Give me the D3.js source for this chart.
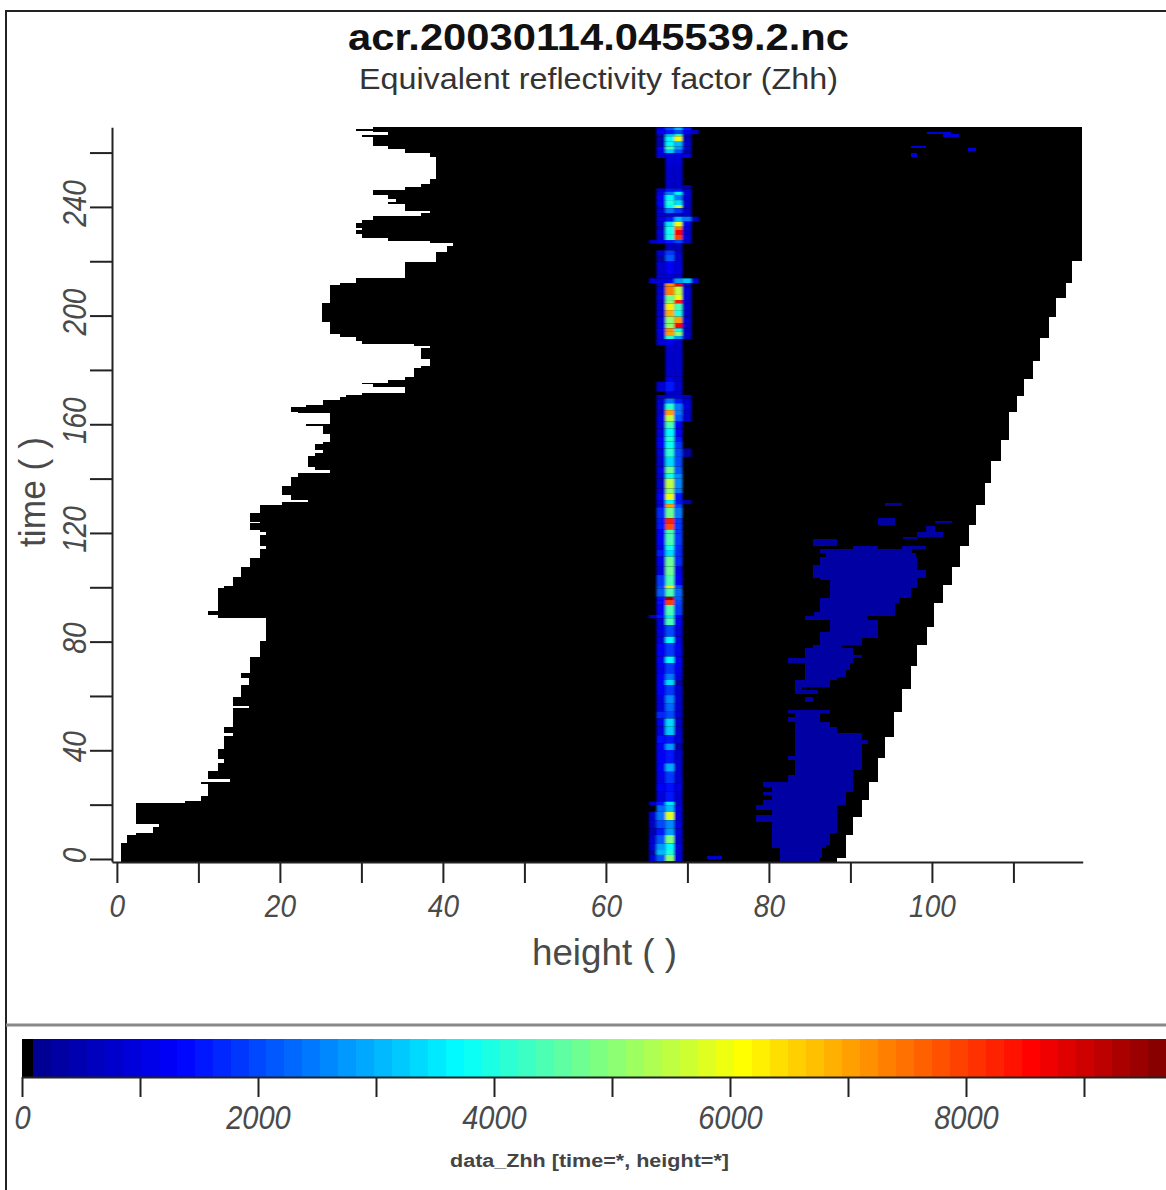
<!DOCTYPE html>
<html>
<head>
<meta charset="utf-8">
<script src="https://cdn.jsdelivr.net/npm/d3@7/dist/d3.min.js"></script>
<style>
html,body{margin:0;padding:0;background:#fff;overflow:hidden}
svg{display:block}
text{font-family:"Liberation Sans",Arial,sans-serif}
</style>
</head>
<body>
<script>
const titleText = "acr.20030114.045539.2.nc";
const subtitleText = "Equivalent reflectivity factor (Zhh)";
const xTitle = "height ( )";
const yTitle = "time ( )";
const barTitle = "data_Zhh [time=*, height=*]";

const xTicks = [0,10,20,30,40,50,60,70,80,90,100,110];
const xLabelled = [0,20,40,60,80,100];
const yTicks = [0,20,40,60,80,100,120,140,160,180,200,220,240,260];
const yLabelled = [0,40,80,120,160,200,240];
const barTicks = [0,1000,2000,3000,4000,5000,6000,7000,8000,9000];
const barLabelled = [0,2000,4000,6000,8000];

// colour map of the bar
const barStopValues = [100,1322,3720,6110,8570,9700];
const barStopColors = ["#00008f","#0000ff","#00ffff","#ffff00","#ff0000","#800000"];
const barLevels = 64;
const barFloor = 90;
const barMax = 9695;

// lower bound of the echo: each run starts at time t, holds until the next
const leftTimes = [-1,6,8.8,9.7,11.9,12.9,20.5,21.4,23.2,27.5,28.4,29.4,32.5,35.2,36.7,40.4,45.2,46.2,48.7,55.5,56.3,59.7,64,66.7,68.3,74.2,80.1,88.8,89.8,91.3,99.9,100.6,103.9,107.3,110.9,114.1,115.2,119.2,120.2,121,123.5,124.1,127.2,130.3,131.3,132.2,134,137.3,140.7,141.7,142.2,143.2,144.4,148.3,149.3,150.6,152.6,153.6,156.6,159.2,160.2,164,164.5,166.4,167,168.9,170.1,170.7,171.4,173.8,174.7,175.3,176.3,177.3,180.6,181.4,184,188.2,188.9,189.5,190.7,192.2,193.2,197.8,204.5,211.2,212.1,213.9,219.8,223.3,225.7,226.6,227.5,228.4,230,231.5,232.3,234.2,235.2,236.8,237.6,238.6,241.1,241.9,242.9,244.4,246.2,247.4,248.6,250.2,258.2,259.9,261.3,262.4,265.8,266.6,267.4,268,268.6];
const leftHeights = [0.45,1.3,2.4,4.4,5.2,2.4,8.3,10.3,11.2,10.3,13.9,11.2,12.4,13.2,12.4,13.2,14.3,13.2,14.3,16.2,14.3,15.2,16.2,15.2,16.3,17.5,18.3,12.4,11.2,12.4,13.2,14.3,15.2,16.3,17.5,18.3,17.5,18.3,17.5,16.3,17.5,16.3,17.5,20.3,23.4,21.4,20.3,21.4,22.2,22.2,26.2,24.3,23.4,24.3,25.3,24.3,25.3,26.2,25.3,23.2,26.2,22.2,21.4,23.2,25.3,27.4,28.1,30.1,35.3,31.4,30.1,33.3,35.3,36.5,37.3,38.4,37.3,38.4,36.5,30.1,29.3,27.4,26.2,25.2,26.2,27.4,29.3,35.3,39.2,40.5,41.3,38.4,33.3,30.1,29.3,30.1,29.3,30.1,31.4,37.3,38.4,35.3,33.3,34.3,33.3,31.4,35.3,37.3,38.4,39.2,38.4,35.3,33.3,31.4,30.1,33.3,31.4,29.3,31.4,36.5];

// upper bound of the echo
const rightTimes = [-1,0.4,8.8,15.6,21.7,28.5,37,44.8,54,62.5,71,78.8,85.5,94.1,100.8,107.6,115.3,122.9,130.4,138.3,146.6,154.2,164.6,170.5,176.5,183.4,191.7,199.3,206.3,212.1,220.1];
const rightHeights = [88.3,89.4,90.3,91.4,92.3,93.4,94.2,95.4,96.3,97.4,98.2,99.4,100.2,101.4,102.5,103.4,104.5,105.4,106.5,107.3,108.5,109.4,110.4,111.3,112.4,113.3,114.4,115.2,116.4,117.2,118.4];

// faint echo patches: time from, time to, height from, height to, value
const patches = [
[-0.8,0.2,81.3,86.3,300],[0.2,3.9,81.3,86.5,300],[3.9,5.1,80.4,87,300],[5.1,9.4,80.4,87.5,300],[9.4,12.5,80.4,88.3,300],[12.5,13.7,80.4,88.3,300],[13.7,16.2,78.4,88.3,300],[16.2,17.4,80.4,88.3,300],[17.4,18,80.4,88.3,300],[18,19.8,78.4,88.3,300],[19.8,21.7,79.3,89.4,300],[21.7,23.5,80.4,89.4,300],[23.5,24.8,79.3,89.4,300],[24.8,26.6,80.4,90.3,300],[26.6,28.4,79.3,90.3,300],[28.4,30.9,82.4,90.3,300],[30.9,32.7,83.2,90.3,300],[32.7,36.4,83.2,91.4,300],[36.4,37.9,82.4,91.4,300],[37.9,42.5,83.2,91.4,300],[42.5,43.8,83.2,92.2,300],[43.8,46.2,83.2,91.4,300],[46.2,48.7,83.2,88.3,300],[48.7,50.5,83.2,87.5,300],[50.5,52.4,82.4,86.3,300],[52.4,53.8,83.2,86.3,300],[53.8,54.8,82.4,87.5,300],
[57.9,59.7,84.4,85.4,300],[60.7,62.2,83.2,86,300],[62.2,63.4,83.2,84,300],[63.4,65.9,83.2,87.5,300],[65.9,67.1,84.4,88.3,300],[67.1,69.6,84.4,89.4,300],[69.6,72,84.4,90,300],[72,73.8,82.4,90.3,300],[73.8,75,84.4,91.4,300],[75,77.5,84.4,90.3,300],[77.5,78.8,85.4,89,300],[78.8,81.2,86.3,91.4,300],[81.2,83.7,86.3,93.4,300],[83.7,86.1,87.5,93.4,300],[86.1,88,87.5,93.4,300],[88,89.4,84.4,92,300],[89.4,91,85.5,95.5,300],[91,94.1,86.3,95.5,300],[94.1,95.9,86.3,96,300],[95.9,97.2,87.5,97.4,300],[97.2,99.6,87.5,97.4,300],[99.6,102.7,87.5,98.2,300],[102.7,103.6,86.3,98.2,300],[103.6,106.4,85.4,99.3,300],[106.4,108.2,85.4,98.2,300],[108.2,111.3,86.3,98.2,300],[111.3,112.5,87,98,300],[112.5,114,86.3,97.5,300],[114,115.2,90.3,93.4,300],[114,115.2,96.3,99.3,300],[115.2,117.6,85.4,88.3,300],[117.6,118.6,96.5,98.2,300],[118.6,120.5,98.2,101.4,300],[120.5,122.5,99.3,100.4,300],[123.5,124.5,100.4,102.5,300],[122.9,125.4,93.4,95.5,300],[129.9,131.1,94.3,96.3,300],
[0,1,72.4,74.3,800],[266.7,267.5,99.4,102.4,900],[265.9,266.8,101.4,103.3,900],[261.7,262.4,97.4,99.3,900],[260.7,261.6,104.4,105.4,900],[258.3,260,97.4,98.2,900]
];

// the strong band near height 68
const bandEdges = [65.3,66.2,67.3,68.4,69.4,70.5,71.4];
// time from, time to, then the value in each of the six height bins
const bandRows = [
[268.3,269.3,0,1000,2000,3000,1500,0],[266.8,268.3,0,1300,1500,2000,1200,800],[266,266.8,0,800,3000,4000,800,0],[264,266,0,500,3700,6000,600,0],[262.2,264,0,500,3700,3000,800,0],[261,262.2,0,1200,4500,2800,1000,0],[259.7,261,0,1000,3200,2000,300,0],[258,259.7,0,1000,1000,900,900,0],[255.4,258,0,0,1000,900,0,0],[248,255.4,0,0,800,800,0,0],[246.8,248,0,0,800,800,500,0],[245.6,246.8,0,800,1500,1500,700,0],[244.4,245.6,0,1000,2500,3700,1000,0],[242.5,244.4,0,1300,3700,2500,800,0],[240.7,242.5,0,1200,4000,3400,800,0],[239.5,240.7,0,800,3700,5500,600,0],[237.6,239.5,0,1000,2500,1800,800,0],[236.4,237.6,0,800,800,800,800,0],[234.6,236.4,0,900,1500,3000,2500,800],[232.7,234.6,0,800,3500,6000,1300,0],[231.5,232.7,0,400,4000,7500,1000,0],[229.7,231.5,0,900,3800,8600,800,0],[227.8,229.7,0,700,4000,8000,1000,0],[226.6,227.8,600,1300,1500,2000,800,0],[224,226.6,0,0,600,600,0,0],[222.3,224,0,800,1800,800,0,0],[219.9,222.3,0,300,2200,800,0,0],[215,219.9,0,700,1200,900,0,0],[213.7,215,0,1000,1000,700,0,0],[211.9,213.7,900,1000,1200,2800,3200,900],[210.7,211.9,0,800,7200,8600,800,0],[207.6,210.7,0,800,7300,5500,1000,0],[205.7,207.6,0,1000,4800,6000,1000,0],[204.5,205.7,0,800,5000,8400,800,0],[202,204.5,0,800,6300,4500,800,0],[199.6,202,0,800,6800,4000,800,0],[197.1,199.6,0,1000,5000,7000,800,0],[195.3,197.1,0,1000,5000,8500,800,0],[194,195.3,0,1200,7200,3900,800,0],[192.5,194,0,1000,7000,5000,800,0],[191.3,192.5,0,700,4200,2800,600,0],[189.2,191.3,0,900,1300,800,0,0],[177.5,189.2,0,0,800,700,0,0],[175.7,177.5,0,0,1100,700,0,0],[172,175.7,0,700,1500,800,0,0],[170.8,172,0,0,700,700,0,0],[169.5,170.8,0,700,800,1000,700,0],[167.7,169.5,0,700,2500,1500,700,0],[165.2,167.7,0,700,4200,2500,900,0],[163.4,165.2,0,800,7000,2500,800,0],[161,163.4,0,1000,5500,2200,800,0],[158.5,161,0,900,4500,1300,0,0],[155.4,158.5,0,1000,3700,1200,0,0],[153.6,155.4,0,1200,4200,1500,0,0],[151.1,153.6,0,1200,3800,1800,0,0],[148,151.1,0,1000,4200,2000,300,0],[144.4,148,0,800,3300,2000,0,0],[141.9,144.4,0,1000,4800,2200,0,0],[140,141.9,0,800,3800,2600,0,0],[136.4,140,0,800,5500,2600,0,0],
[135.8,136.4,0,1000,5000,2500,0,0],[134.6,135.8,0,1000,5000,2500,0,0],[132.1,134.6,0,1200,5900,1500,0,0],[130.6,132.1,0,1000,3700,1500,400,0],[129.4,130.6,0,1000,7000,2000,0,0],[125.4,129.4,0,1700,4800,2400,0,0],[123.5,125.4,0,1500,8300,1800,0,0],[121.3,123.5,0,1500,7800,1800,0,0],[119.8,121.3,0,1200,4500,1800,0,0],[115.5,119.8,0,1200,4500,1900,0,0],[113.7,115.5,0,1000,3800,1700,0,0],[111.3,113.7,0,1600,3300,1700,0,0],[107.6,111.3,0,1100,4800,1700,0,0],[104.5,107.6,0,900,4800,1100,0,0],[100.8,104.5,0,1800,4500,1300,0,0],[99.6,100.8,0,2000,6300,2000,0,0],[96.5,99.6,0,2200,4500,2300,0,0],[95.3,96.5,0,1400,9300,2200,0,0],[93.5,95.3,0,1400,8000,2000,0,0],[89.8,93.5,0,1300,4500,1800,0,0],[88.6,89.8,900,1500,3500,1300,0,0],[86.1,88.6,0,1000,4400,1200,0,0],[81.8,86.1,0,1000,2000,1000,0,0],[79.4,81.8,0,1000,3700,1000,0,0],[74.5,79.4,0,1200,1800,1100,0,0],[72,74.5,0,1300,3700,1200,0,0],[68.3,72,0,1100,1800,1100,0,0],[65.9,68.3,0,1300,2500,1000,0,0],[64,65.9,0,1300,3400,300,0,0],[60.3,64,0,1200,1800,800,0,0],[57.3,60.3,0,1000,2600,800,0,0],[54.2,57.3,0,1000,2300,800,0,0],[51.7,54.2,0,1700,2000,800,0,0],[48.7,51.7,0,1100,3300,800,0,0],[45.6,48.7,0,1000,3200,800,0,0],[42.5,45.6,0,1400,1500,800,0,0],[40.1,42.5,0,1200,2700,300,0,0],[35.2,40.1,0,1300,1600,800,0,0],[32.1,35.2,0,1300,2900,700,0,0],[27.8,32.1,0,1100,1800,800,0,0],[24.8,27.8,0,1200,1400,900,0,0],[21.1,24.8,0,900,1500,800,0,0],[19.8,21.1,700,1600,3500,800,0,0],[17.4,19.8,0,2300,3000,1000,0,0],[14.3,17.4,700,2500,5800,1000,0,0],[11.3,14.3,700,2000,2600,900,0,0],[8.8,11.3,500,1500,2800,1000,0,0],[5.7,8.8,800,2200,4900,800,0,0],[3.3,5.7,900,2800,3700,1000,0,0],[1.5,3.3,500,3000,4000,1000,0,0],[-0.8,1.5,1000,2200,5000,1000,0,0]
];

const W = 1166, H = 1190;
const svg = d3.select("body").append("svg").attr("width",W).attr("height",H);
svg.append("rect").attr("width",W).attr("height",H).attr("fill","#fff");
const soft = svg.append("defs").append("filter").attr("id","soft")
  .attr("x","-20%").attr("y","-2%").attr("width","140%").attr("height","104%");
soft.append("feGaussianBlur").attr("stdDeviation","0.9 0.7");

const inkAxis = "#222", inkText = "#4a4a4a";
const x = d3.scaleLinear().domain([-0.6,118.5]).range([112,1082.7]);
const y = d3.scaleLinear().domain([-1,269.3]).range([861.7,127.3]);
const barX = d3.scaleLinear().domain([0,barMax]).range([22,1166]);

const jet = d3.scaleLinear().domain(barStopValues).range(barStopColors).clamp(true);
const binSize = (barMax-barFloor)/(barLevels-1);
const levelEdge = l => l===0 ? 0 : barFloor+(l-1)*binSize;
const levelOf = v => v<barFloor ? 0 : Math.min(barLevels-1, 1+Math.floor((v-barFloor)/binSize));
const colorOfLevel = l => l===0 ? "#000" : jet(levelEdge(l)+binSize/2);
const colorOf = v => colorOfLevel(levelOf(v));

// frame
svg.append("path").attr("d",`M6,${H}V11H${W}`).attr("fill","none").attr("stroke",inkAxis).attr("stroke-width",2);
svg.append("line").attr("x1",6).attr("x2",W).attr("y1",1025).attr("y2",1025).attr("stroke","#888").attr("stroke-width",3);

// titles
svg.append("text").attr("x",598.5).attr("y",50).attr("text-anchor","middle")
  .attr("font-size",37).attr("font-weight","bold").attr("fill","#111")
  .attr("textLength",501).attr("lengthAdjust","spacingAndGlyphs").text(titleText);
svg.append("text").attr("x",598.5).attr("y",89).attr("text-anchor","middle")
  .attr("font-size",30).attr("fill","#333")
  .attr("textLength",479).attr("lengthAdjust","spacingAndGlyphs").text(subtitleText);

// echo area
const plot = svg.append("g").attr("shape-rendering","crispEdges");
const cuts = Array.from(new Set(leftTimes.concat(rightTimes,[269.3]))).sort(d3.ascending);
const spans = d3.pairs(cuts).map(([a,b])=>({a,b,
  lo:leftHeights[d3.bisectRight(leftTimes,a)-1],
  hi:rightHeights[d3.bisectRight(rightTimes,a)-1]}));
plot.selectAll(".echo").data(spans).join("rect").attr("class","echo")
  .attr("x",d=>x(d.lo)).attr("width",d=>x(d.hi)-x(d.lo))
  .attr("y",d=>y(d.b)).attr("height",d=>y(d.a)-y(d.b)).attr("fill","#000");

plot.selectAll(".patch").data(patches).join("rect").attr("class","patch")
  .attr("x",d=>x(d[2])).attr("width",d=>x(d[3])-x(d[2]))
  .attr("y",d=>y(d[1])).attr("height",d=>y(d[0])-y(d[1])).attr("fill",d=>colorOf(d[4]));

const bandClip = svg.select("defs").append("clipPath").attr("id","plotClip");
bandClip.append("rect").attr("x",x(60)).attr("width",x(75)-x(60)).attr("y",y(269.3)).attr("height",y(-1)-y(269.3));
const bandCells = bandRows.flatMap(r => r.slice(2).map((v,i)=>({t0:r[0],t1:r[1],v,h0:bandEdges[i],h1:bandEdges[i+1]}))).filter(c=>c.v>0);
svg.append("g").attr("clip-path","url(#plotClip)").append("g").attr("filter","url(#soft)")
  .selectAll(".cell").data(bandCells).join("rect").attr("class","cell")
  .attr("x",d=>x(d.h0)).attr("width",d=>x(d.h1)-x(d.h0))
  .attr("y",d=>y(d.t1)).attr("height",d=>y(d.t0)-y(d.t1)).attr("fill",d=>colorOf(d.v));

// axes
function styleAxis(g){
  g.selectAll("path,line").attr("stroke",inkAxis).attr("stroke-width",2);
  g.selectAll("text").attr("fill",inkText).attr("font-style","italic").style("font-family",'"Liberation Sans",Arial,sans-serif');
}
const gx = svg.append("g").attr("transform","translate(0,862)")
  .call(d3.axisBottom(x).tickValues(xTicks).tickSize(21).tickSizeOuter(0).tickFormat(d=>xLabelled.includes(d)?d:""));
styleAxis(gx);
gx.selectAll("text").attr("font-size",28).attr("y",null).attr("dy",null).attr("transform","translate(0,55) scale(1,1.1)");

const gy = svg.append("g").attr("transform","translate(112,0)")
  .call(d3.axisLeft(y).tickValues(yTicks).tickSize(22).tickSizeOuter(0).tickFormat(d=>yLabelled.includes(d)?d:""));
styleAxis(gy);
gy.selectAll("text").attr("font-size",28).attr("x",null).attr("dy",null).attr("text-anchor","middle")
  .attr("transform","translate(-26,-4) rotate(-90) scale(1,1.2)");

svg.append("text").attr("transform","translate(45,492) rotate(-90)").attr("text-anchor","middle")
  .attr("font-size",36).attr("fill",inkText).attr("textLength",110).attr("lengthAdjust","spacingAndGlyphs").text(yTitle);
svg.append("text").attr("x",604.5).attr("y",965).attr("text-anchor","middle")
  .attr("font-size",36).attr("fill",inkText).attr("textLength",145).attr("lengthAdjust","spacingAndGlyphs").text(xTitle);

// colour bar
const barG = svg.append("g").attr("shape-rendering","crispEdges");
barG.selectAll("rect").data(d3.range(barLevels)).join("rect")
  .attr("x",l=>barX(levelEdge(l))).attr("width",l=>barX(levelEdge(l+1))-barX(levelEdge(l))+0.5)
  .attr("y",1039).attr("height",38).attr("fill",colorOfLevel);

const gb = svg.append("g").attr("transform","translate(0,1077)")
  .call(d3.axisBottom(barX).tickValues(barTicks).tickSize(20).tickSizeOuter(0).tickFormat(d=>barLabelled.includes(d)?d:""));
styleAxis(gb);
gb.selectAll("text").attr("font-size",29).attr("y",null).attr("dy",null).attr("transform","translate(0,52) scale(1,1.15)");

svg.append("text").attr("x",589.5).attr("y",1167).attr("text-anchor","middle")
  .attr("font-size",18).attr("font-weight","bold").attr("fill","#444")
  .attr("textLength",279).attr("lengthAdjust","spacingAndGlyphs").text(barTitle);
</script>
</body>
</html>
